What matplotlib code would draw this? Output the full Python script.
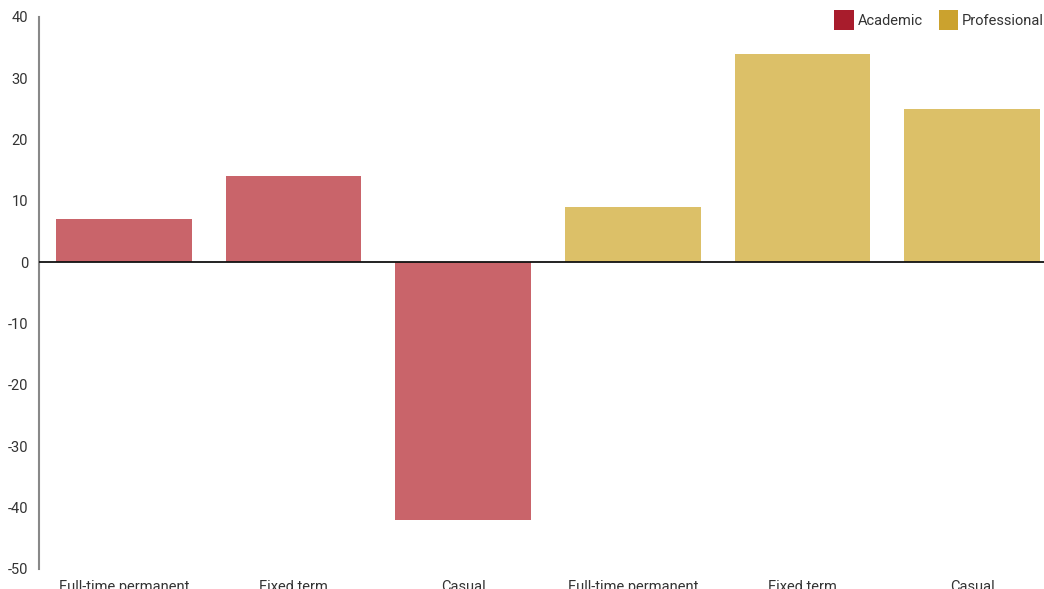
import matplotlib
matplotlib.use("Agg")
import matplotlib.pyplot as plt
from matplotlib.patches import Patch

categories = ["Full-time permanent", "Fixed term", "Casual",
              "Full-time permanent", "Fixed term", "Casual"]
groups = ["Academic", "Academic", "Academic",
          "Professional", "Professional", "Professional"]
values = [7, 14, -42, 9, 34, 25]
yticks = [40, 30, 20, 10, 0, -10, -20, -30, -40, -50]

bar_colors = {"Academic": "#c9646a", "Professional": "#dcc068"}
legend_colors = {"Academic": "#a81c2c", "Professional": "#cba22e"}

plt.rcParams['font.family'] = ['Roboto', 'DejaVu Sans']
fig = plt.figure(figsize=(10.44, 5.89), dpi=100)
W, H = 1044, 589
left_px, right_px = 39, 1057
top_px, bot_px = 17, 569
ax = fig.add_axes([left_px / W, 1 - bot_px / H, (right_px - left_px) / W, (bot_px - top_px) / H])

x = list(range(len(values)))
ax.bar(x, values, width=0.8, color=[bar_colors[g] for g in groups], zorder=2)
ax.axhline(0, color="#111111", linewidth=1.3, zorder=3)
ax.set_xlim(-0.5, len(values) - 0.5)
ax.set_ylim(-50, 40)
ax.set_yticks(yticks)
ax.set_yticklabels([str(v) for v in yticks])
ax.set_xticks(x)
ax.set_xticklabels(categories)
for s in ["top", "right", "bottom"]:
    ax.spines[s].set_visible(False)
ax.spines["left"].set_color("#888888")
ax.spines["left"].set_linewidth(1.5)
ax.tick_params(axis="y", length=0, pad=8, labelsize=10.5, labelcolor="#333333")
ax.tick_params(axis="x", length=0, pad=8, labelsize=10.5, labelcolor="#333333")

handles = [Patch(facecolor=legend_colors[g], label=g) for g in ["Academic", "Professional"]]
fig.legend(handles=handles, loc="upper right", bbox_to_anchor=(1.0, 1 - 10 / H), ncol=2,
           frameon=False, fontsize=10.5, labelcolor="#333333", handlelength=1.35,
           handleheight=1.75, handletextpad=0.25, columnspacing=1.1, borderaxespad=0.0,
           borderpad=0.0)

fig.savefig("out.png", dpi=100)
